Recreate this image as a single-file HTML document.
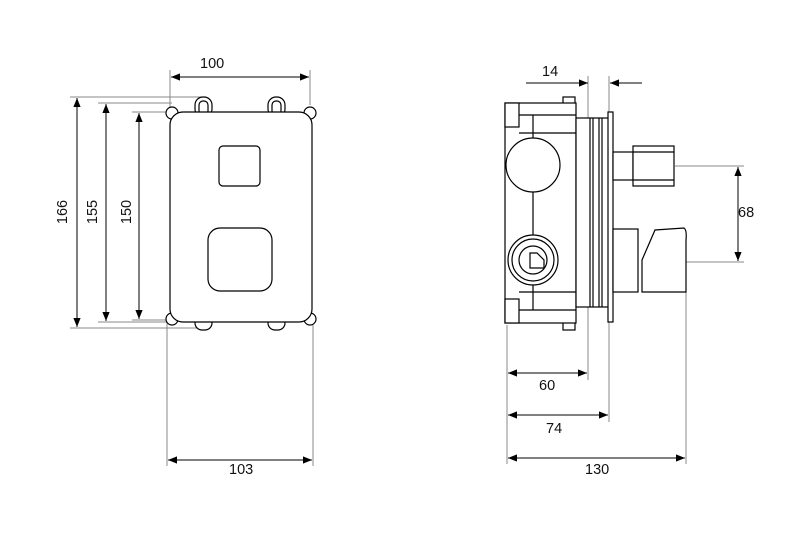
<!DOCTYPE html>
<html><head><style>body{margin:0;background:#fff}svg{display:block}text{font-family:"Liberation Sans",sans-serif;font-size:14.5px;fill:#111}</style></head>
<body>
<svg width="800" height="533" viewBox="0 0 800 533" xmlns="http://www.w3.org/2000/svg">
<defs>
<marker id="a" viewBox="0 0 10 10" refX="10" refY="5" markerWidth="9" markerHeight="9" orient="auto-start-reverse" markerUnits="userSpaceOnUse"><path d="M0,1 L10,5 L0,9 z" fill="#000"/></marker>
</defs>
<g stroke="#888" stroke-width="1" fill="none">
<line x1="70" y1="97" x2="205" y2="97"/>
<line x1="98" y1="103" x2="172" y2="103"/>
<line x1="132" y1="112" x2="172" y2="112"/>
<line x1="70" y1="328" x2="200" y2="328"/>
<line x1="98" y1="322" x2="172" y2="322"/>
<line x1="132" y1="320" x2="172" y2="320"/>
<line x1="170" y1="70" x2="170" y2="112"/>
<line x1="310" y1="70" x2="310" y2="105"/>
<line x1="167" y1="322" x2="167" y2="466"/>
<line x1="313" y1="322" x2="313" y2="466"/>
<line x1="507" y1="325" x2="507" y2="464"/>
<line x1="588" y1="76" x2="588" y2="380"/>
<line x1="609" y1="76" x2="609" y2="422"/>
<line x1="686" y1="292" x2="686" y2="464"/>
<line x1="675" y1="166" x2="744" y2="166"/>
<line x1="686" y1="262" x2="744" y2="262"/>
</g>
<g stroke="#000" stroke-width="1" fill="none">
<line x1="77" y1="98" x2="77" y2="327" marker-start="url(#a)" marker-end="url(#a)"/>
<line x1="106" y1="104" x2="106" y2="321" marker-start="url(#a)" marker-end="url(#a)"/>
<line x1="139" y1="113" x2="139" y2="319" marker-start="url(#a)" marker-end="url(#a)"/>
<line x1="171" y1="77" x2="309" y2="77" marker-start="url(#a)" marker-end="url(#a)"/>
<line x1="168" y1="460" x2="312" y2="460" marker-start="url(#a)" marker-end="url(#a)"/>
<line x1="526" y1="83" x2="588" y2="83" marker-end="url(#a)"/>
<line x1="642" y1="83" x2="610" y2="83" marker-end="url(#a)"/>
<line x1="738" y1="167" x2="738" y2="261" marker-start="url(#a)" marker-end="url(#a)"/>
<line x1="508" y1="373" x2="587" y2="373" marker-start="url(#a)" marker-end="url(#a)"/>
<line x1="508" y1="415" x2="608" y2="415" marker-start="url(#a)" marker-end="url(#a)"/>
<line x1="508" y1="458" x2="685" y2="458" marker-start="url(#a)" marker-end="url(#a)"/>
</g>
<g stroke="#000" stroke-width="1.2" fill="#fff">
<rect x="195" y="97" width="17" height="20" rx="8"/>
<rect x="268" y="97" width="17" height="20" rx="8"/>
<rect x="199" y="101" width="9" height="14" rx="4"/>
<rect x="272" y="101" width="9" height="14" rx="4"/>
<rect x="195" y="316" width="17" height="14" rx="7"/>
<rect x="268" y="316" width="17" height="14" rx="7"/>
<circle cx="172" cy="113" r="6"/><circle cx="310" cy="113" r="6"/>
<circle cx="172" cy="319" r="6"/><circle cx="310" cy="319" r="6"/>
<rect x="170" y="112" width="142" height="210" rx="13"/>
<rect x="219" y="146" width="41" height="40" rx="4"/>
<rect x="208" y="228" width="64" height="63" rx="12"/>
</g>
<g stroke="#000" stroke-width="1.2" fill="#fff">
<rect x="563" y="97" width="12" height="18"/>
<rect x="563" y="310" width="12" height="20"/>
<rect x="505" y="103" width="71" height="220"/>
<rect x="505" y="103" width="14" height="24"/>
<rect x="505" y="299" width="14" height="24"/>
<line x1="519" y1="115" x2="576" y2="115"/><line x1="519" y1="133" x2="576" y2="133"/>
<line x1="519" y1="292" x2="576" y2="292"/><line x1="519" y1="310" x2="576" y2="310"/>
<line x1="533" y1="115" x2="533" y2="310"/>
<circle cx="533" cy="165" r="27"/>
<circle cx="533" cy="260" r="25"/><circle cx="533" cy="260" r="21"/><circle cx="533" cy="260" r="14"/>
<path d="M530,253 L537,253 L544,260 L544,268 L530,268 Z"/>
<rect x="576" y="118" width="33" height="189"/>
<line x1="590" y1="118" x2="590" y2="307"/><line x1="593" y1="118" x2="593" y2="307"/>
<line x1="599" y1="118" x2="599" y2="307"/><line x1="602" y1="118" x2="602" y2="307"/>
<rect x="608" y="112" width="5" height="210"/>
<rect x="613" y="152" width="20" height="28"/>
<rect x="633" y="146" width="41" height="40"/>
<line x1="633" y1="152" x2="674" y2="152"/><line x1="633" y1="180" x2="674" y2="180"/>
<rect x="613" y="229" width="25" height="63"/>
<path d="M642,292 L642,260 L655,230 L684,228 Q687,230 686,240 L686,292 Z"/>
</g>
<text x="200" y="68">100</text>
<text x="229" y="474">103</text>
<text x="542" y="76">14</text>
<text x="738" y="217">68</text>
<text x="539" y="390">60</text>
<text x="546" y="433">74</text>
<text x="585" y="474">130</text>
<text transform="translate(67,212) rotate(-90)" text-anchor="middle">166</text>
<text transform="translate(97,212) rotate(-90)" text-anchor="middle">155</text>
<text transform="translate(131,212) rotate(-90)" text-anchor="middle">150</text>
</svg>
</body></html>
